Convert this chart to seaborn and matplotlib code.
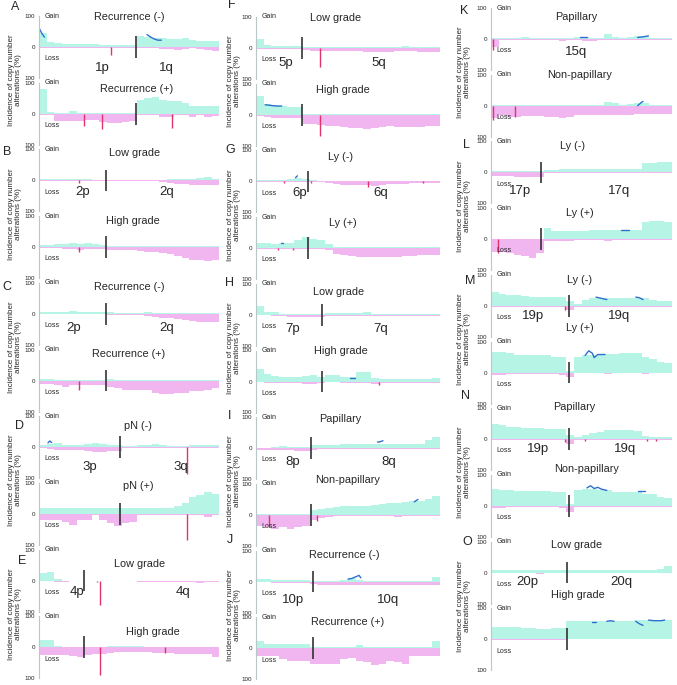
import numpy as np
import matplotlib
matplotlib.use("Agg")
import matplotlib.pyplot as plt
import seaborn as sns

# ---- panel meta ------------------------------------------------------------
LETTERS = ["A", "B", "C", "D", "E", "F", "G", "H", "I", "J", "K", "L", "M", "N", "O"]
ARMS = [("1p", "1q"), ("2p", "2q"), ("2p", "2q"), ("3p", "3q"), ("4p", "4q"),
        ("5p", "5q"), ("6p", "6q"), ("7p", "7q"), ("8p", "8q"), ("10p", "10q"),
        (None, "15q"), ("17p", "17q"), ("19p", "19q"), ("19p", "19q"), ("20p", "20q")]
ARM_POS = [(35, 71), (24, 71), (19, 71), (28, 79), (21, 80),
           (16, 67), (24, 68), (20, 68), (20, 72), (20, 72),
           (None, 47), (16, 71), (23, 71), (26, 74), (20, 72)]
ARM_Y = [-68, -38, -45, -64, -38, -48, -38, -45, -45, -58, -42, -61, -32, -32, -29]
CENTROMERE = [54, 37, 37, 45, 25, 25, 28, 36, 30, 31, None, 27.5, 43, 43, 42]
TITLES = [("Recurrence (-)", "Recurrence (+)"), ("Low grade", "High grade"),
          ("Recurrence (-)", "Recurrence (+)"), ("pN (-)", "pN (+)"),
          ("Low grade", "High grade"), ("Low grade", "High grade"),
          ("Ly (-)", "Ly (+)"), ("Low grade", "High grade"),
          ("Papillary", "Non-papillary"), ("Recurrence (-)", "Recurrence (+)"),
          ("Papillary", "Non-papillary"), ("Ly (-)", "Ly (+)"), ("Ly (-)", "Ly (+)"),
          ("Papillary", "Non-papillary"), ("Low grade", "High grade")]
TITLE_X = [(50, 54), (53, 52), (50, 50), (55, 55), (56, 63),
           (43, 47), (46, 47), (45, 46), (46, 50), (48, 50),
           (47, 49), (45, 49), (49, 49), (46, 53), (47, 48)]
TITLE_Y = [(97, 80), (87, 84), (85, 85), (70, 90), (52, 48),
           (97, 80), (80, 80), (74, 97), (93, 113), (87, 84),
           (70, 100), (84, 84), (84, 145), (103, 120), (90, 142)]

# ---- gain / loss incidence (%) in 24 equal bins along each chromosome -------
A1_GAIN = [45, 15, 12, 10, 10, 10, 10, 9, 8, 8, 8, 7, 7, 35, 32, 30, 28, 26, 25, 28, 22, 20, 18, 18]
A1_LOSS = [2, 2, 2, 2, 2, 2, 2, 2, 3, 4, 3, 3, 2, 3, 3, 4, 5, 8, 10, 5, 4, 8, 10, 12]
A2_GAIN = [80, 5, 2, 2, 8, 2, 2, 2, 2, 2, 2, 2, 2, 45, 50, 55, 45, 40, 40, 35, 25, 25, 25, 25]
A2_LOSS = [3, 3, 25, 25, 25, 25, 20, 20, 28, 30, 30, 28, 25, 5, 5, 3, 10, 10, 5, 3, 10, 3, 10, 8]
B1_GAIN = [4, 3, 3, 3, 3, 3, 3, 2, 2, 2, 2, 2, 2, 2, 2, 2, 2, 3, 3, 4, 5, 8, 10, 5]
B1_LOSS = [1, 1, 1, 1, 2, 1, 1, 1, 1, 1, 1, 1, 1, 1, 1, 1, 5, 8, 10, 12, 15, 15, 15, 15]
B2_GAIN = [8, 8, 10, 10, 12, 10, 12, 10, 8, 5, 3, 3, 3, 3, 3, 3, 3, 3, 2, 2, 2, 2, 2, 2]
B2_LOSS = [3, 3, 4, 5, 5, 8, 5, 5, 5, 8, 10, 10, 10, 12, 15, 15, 18, 22, 28, 35, 40, 42, 45, 40]
C1_GAIN = [6, 5, 5, 5, 8, 5, 5, 5, 5, 5, 3, 3, 3, 3, 5, 3, 3, 3, 3, 3, 3, 3, 3, 3]
C1_LOSS = [2, 2, 2, 2, 2, 2, 2, 2, 2, 3, 3, 3, 5, 5, 8, 10, 12, 15, 18, 20, 22, 25, 25, 25]
C2_GAIN = [5, 5, 3, 3, 3, 3, 3, 3, 3, 5, 3, 3, 3, 3, 3, 3, 3, 3, 3, 3, 3, 3, 3, 3]
C2_LOSS = [10, 10, 15, 20, 15, 15, 15, 15, 15, 20, 25, 30, 30, 30, 30, 40, 45, 45, 40, 40, 35, 35, 30, 25]
D1_GAIN = [8, 10, 12, 8, 8, 8, 10, 15, 10, 8, 6, 5, 5, 6, 8, 10, 6, 5, 5, 5, 6, 8, 8, 8]
D1_LOSS = [3, 5, 8, 10, 10, 10, 12, 15, 15, 12, 12, 2, 2, 2, 2, 2, 2, 2, 2, 2, 2, 2, 2, 2]
D2_GAIN = [20, 20, 20, 20, 20, 20, 20, 20, 20, 20, 20, 20, 20, 20, 20, 20, 20, 20, 25, 35, 55, 60, 70, 65]
D2_LOSS = [20, 20, 20, 25, 35, 20, 20, 5, 20, 30, 40, 30, 25, 3, 3, 3, 3, 3, 3, 3, 3, 3, 10, 3]
E1_GAIN = [25, 28, 5, 0, 0, 0, 0, 0, 0, 0, 0, 0, 0, 0, 0, 0, 0, 0, 0, 0, 0, 0, 0, 0]
E1_LOSS = [0, 0, 3, 3, 0, 0, 0, 0, 0, 0, 0, 0, 0, 3, 3, 3, 3, 3, 3, 3, 5, 8, 5, 3]
E2_GAIN = [25, 25, 5, 1, 1, 1, 1, 1, 1, 5, 5, 5, 5, 5, 1, 1, 1, 1, 1, 1, 1, 1, 1, 1]
E2_LOSS = [25, 25, 25, 25, 28, 30, 25, 20, 20, 18, 15, 15, 15, 15, 15, 18, 18, 18, 20, 20, 20, 22, 22, 30]
F1_GAIN = [30, 10, 8, 8, 8, 8, 3, 3, 3, 3, 3, 3, 3, 3, 3, 3, 3, 3, 3, 5, 3, 3, 3, 3]
F1_LOSS = [2, 2, 2, 2, 2, 2, 5, 10, 10, 10, 10, 10, 10, 10, 12, 12, 12, 12, 10, 10, 10, 12, 12, 12]
F2_GAIN = [60, 35, 30, 28, 25, 25, 2, 2, 2, 2, 2, 2, 2, 2, 2, 2, 2, 2, 2, 2, 2, 2, 2, 2]
F2_LOSS = [5, 8, 10, 10, 10, 10, 30, 30, 32, 35, 38, 40, 42, 42, 45, 42, 40, 38, 40, 40, 40, 40, 38, 35]
G1_GAIN = [5, 5, 5, 5, 8, 10, 8, 3, 2, 2, 2, 2, 2, 2, 2, 2, 2, 2, 2, 2, 2, 2, 2, 2]
G1_LOSS = [2, 2, 2, 2, 2, 2, 2, 3, 3, 5, 8, 10, 10, 10, 12, 15, 10, 8, 8, 8, 5, 5, 5, 5]
G2_GAIN = [15, 15, 12, 15, 15, 25, 35, 30, 25, 12, 5, 3, 3, 3, 3, 3, 3, 3, 3, 3, 5, 3, 3, 3]
G2_LOSS = [3, 3, 3, 3, 3, 3, 3, 3, 3, 5, 20, 22, 25, 28, 30, 30, 28, 30, 28, 25, 25, 22, 22, 22]
H1_GAIN = [30, 10, 8, 3, 3, 3, 3, 3, 3, 5, 5, 5, 5, 5, 10, 3, 2, 2, 2, 2, 2, 2, 2, 2]
H1_LOSS = [2, 2, 5, 5, 6, 8, 8, 8, 8, 3, 3, 3, 3, 3, 3, 3, 3, 3, 3, 3, 3, 5, 3, 3]
H2_GAIN = [40, 25, 18, 15, 15, 15, 18, 20, 15, 20, 20, 15, 15, 30, 30, 10, 8, 8, 8, 8, 8, 8, 8, 12]
H2_LOSS = [2, 5, 6, 6, 6, 6, 8, 8, 6, 3, 3, 4, 5, 5, 5, 8, 6, 5, 5, 5, 5, 5, 5, 5]
I1_GAIN = [2, 2, 3, 8, 3, 3, 3, 10, 10, 10, 10, 12, 12, 12, 12, 12, 15, 15, 15, 15, 15, 15, 25, 35]
I1_LOSS = [5, 5, 5, 5, 5, 8, 8, 5, 2, 2, 2, 2, 2, 2, 2, 2, 2, 2, 2, 2, 2, 2, 2, 2]
I2_GAIN = [3, 3, 3, 3, 3, 3, 3, 15, 18, 22, 25, 28, 28, 30, 30, 32, 35, 38, 40, 42, 45, 45, 50, 60]
I2_LOSS = [35, 40, 45, 40, 45, 40, 35, 15, 10, 8, 5, 5, 5, 5, 5, 5, 5, 5, 8, 5, 3, 3, 3, 3]
J1_GAIN = [10, 10, 5, 5, 5, 5, 5, 3, 3, 3, 3, 5, 12, 5, 3, 3, 3, 3, 3, 3, 3, 3, 3, 15]
J1_LOSS = [2, 2, 3, 5, 5, 5, 5, 8, 10, 10, 12, 12, 12, 12, 10, 10, 10, 12, 12, 12, 12, 12, 12, 12]
J2_GAIN = [25, 15, 15, 15, 15, 15, 15, 3, 3, 3, 3, 3, 3, 10, 3, 3, 3, 3, 3, 3, 3, 3, 3, 25]
J2_LOSS = [25, 25, 25, 35, 40, 40, 40, 50, 52, 52, 52, 35, 30, 40, 45, 55, 50, 40, 45, 50, 25, 25, 25, 25]
K1_GAIN = [3, 3, 3, 3, 5, 3, 3, 3, 3, 3, 3, 5, 5, 3, 3, 15, 8, 3, 8, 10, 5, 3, 3, 3]
K1_LOSS = [25, 2, 2, 2, 2, 2, 2, 2, 2, 5, 3, 2, 5, 5, 2, 2, 2, 2, 2, 2, 2, 2, 2, 2]
K2_GAIN = [3, 3, 3, 3, 3, 3, 3, 3, 3, 3, 3, 3, 3, 3, 3, 12, 8, 3, 5, 10, 8, 3, 3, 3]
K2_LOSS = [40, 30, 35, 35, 32, 32, 32, 35, 38, 40, 35, 30, 30, 30, 30, 30, 30, 30, 30, 28, 28, 28, 28, 28]
L1_GAIN = [5, 5, 5, 3, 3, 3, 3, 8, 8, 10, 10, 10, 10, 10, 10, 10, 10, 10, 10, 10, 30, 30, 32, 35]
L1_LOSS = [12, 12, 12, 14, 14, 14, 14, 2, 3, 3, 2, 2, 3, 2, 2, 3, 2, 2, 2, 2, 2, 2, 2, 2]
L2_GAIN = [0, 0, 0, 0, 0, 0, 0, 35, 25, 25, 25, 25, 25, 28, 28, 28, 30, 30, 28, 28, 55, 60, 60, 55]
L2_LOSS = [40, 40, 45, 50, 55, 60, 45, 5, 5, 5, 5, 3, 3, 2, 2, 5, 2, 2, 2, 2, 2, 2, 2, 2]
M1_GAIN = [45, 38, 35, 35, 32, 30, 30, 30, 28, 28, 15, 5, 20, 25, 25, 25, 25, 25, 25, 25, 25, 18, 15, 15]
M1_LOSS = [5, 5, 5, 3, 3, 3, 3, 3, 3, 3, 15, 3, 3, 3, 3, 3, 3, 3, 3, 3, 3, 3, 3, 3]
M2_GAIN = [65, 65, 62, 55, 55, 55, 55, 55, 50, 50, 5, 50, 55, 55, 58, 60, 60, 62, 62, 62, 50, 45, 35, 30]
M2_LOSS = [8, 8, 5, 5, 5, 5, 5, 5, 5, 8, 15, 3, 3, 3, 3, 5, 3, 3, 3, 3, 5, 3, 3, 3]
N1_GAIN = [50, 45, 40, 38, 35, 35, 35, 32, 32, 32, 15, 8, 15, 20, 22, 30, 30, 30, 30, 25, 10, 8, 8, 8]
N1_LOSS = [3, 3, 3, 3, 3, 3, 3, 3, 3, 3, 15, 3, 3, 2, 2, 2, 2, 2, 2, 3, 2, 2, 2, 2]
N2_GAIN = [55, 50, 50, 48, 48, 48, 48, 48, 45, 45, 5, 50, 55, 55, 52, 50, 45, 45, 45, 45, 40, 38, 30, 25]
N2_LOSS = [8, 8, 5, 3, 3, 3, 3, 3, 3, 8, 20, 3, 3, 3, 3, 5, 5, 3, 3, 3, 5, 3, 3, 3]
O1_GAIN = [8, 8, 8, 8, 8, 8, 8, 8, 8, 8, 8, 10, 10, 10, 10, 10, 10, 10, 10, 10, 10, 10, 12, 22]
O1_LOSS = [1, 1, 1, 1, 1, 1, 5, 1, 1, 1, 1, 0, 0, 0, 0, 0, 0, 0, 0, 0, 0, 0, 0, 0]
O2_GAIN = [40, 40, 40, 40, 38, 35, 32, 32, 35, 35, 60, 60, 60, 60, 60, 60, 60, 60, 60, 62, 62, 62, 62, 62]
O2_LOSS = [1, 1, 3, 3, 3, 3, 3, 3, 3, 3, 0, 0, 0, 0, 0, 0, 0, 0, 0, 0, 0, 0, 0, 0]

# ---- narrow significant losses: [position %, depth %] ---------------------
A1_SPIKES = [[40, 25]]
A2_SPIKES = [[25, 40], [35, 50], [74, 45]]
B1_SPIKES = [[22, 10]]
B2_SPIKES = [[22, 15]]
C2_SPIKES = [[22, 30]]
D1_SPIKES = [[82, 85]]
D2_SPIKES = [[82, 85]]
E1_SPIKES = [[32, 5], [34, 80]]
E2_SPIKES = [[34, 88], [70, 18]]
F1_SPIKES = [[35, 60]]
F2_SPIKES = [[35, 70]]
G1_SPIKES = [[15, 5], [30, 5], [61, 18], [91, 5]]
G2_SPIKES = [[12, 5], [20, 5]]
H2_SPIKES = [[67, 10]]
I2_SPIKES = [[7, 40], [33, 20]]
K1_SPIKES = [[1, 35]]
K2_SPIKES = [[1, 45], [13, 38]]
L2_SPIKES = [[4, 45]]
M1_SPIKES = [[41, 15]]
N1_SPIKES = [[41, 10], [52, 5], [86, 5], [91, 5]]

# ---- significant gain traces: [[x...], [y...]] ------------------------------
A1_SIG = [[[0, 1, 2, 3], [62, 50, 40, 32]], [[60, 62, 64, 66, 68], [40, 32, 26, 22, 22]]]
D1_SIG = [[[5, 6, 7], [14, 20, 15]]]
F2_SIG = [[[5, 8, 11, 14], [32, 30, 28, 28]]]
G1_SIG = [[[21.5, 22.5], [12, 18]]]
G2_SIG = [[[13.5, 14.5], [15, 15]]]
H2_SIG = [[[51, 54], [12, 12]]]
I1_SIG = [[[66, 67, 69], [20, 20, 24]]]
I2_SIG = [[[86, 87, 88], [42, 46, 50]]]
J1_SIG = [[[50, 52, 54, 56, 57], [8, 10, 15, 20, 12]]]
K1_SIG = [[[49, 53], [5, 5]], [[81, 84, 87], [5, 7, 10]]]
K2_SIG = [[[81, 82, 83, 84], [0, 5, 10, 14]]]
L2_SIG = [[[72, 74, 76], [28, 28, 28]]]
M1_SIG = [[[58, 61, 64], [28, 24, 20]], [[80, 82, 84], [28, 26, 20]]]
M2_SIG = [[[52, 54, 56, 57, 59, 63], [55, 70, 62, 48, 58, 58]]]
N2_SIG = [[[53, 55, 57, 59, 61, 64], [58, 65, 56, 60, 54, 50]], [[81, 85], [48, 48]]]
O2_SIG = [[[56, 58], [56, 56]], [[64, 66, 68], [58, 60, 58]],
          [[80, 82, 84], [58, 50, 45]], [[87, 90, 94, 96], [62, 60, 60, 62]]]

SUBPLOTS = [
    (A1_GAIN, A1_LOSS, A1_SPIKES, A1_SIG), (A2_GAIN, A2_LOSS, A2_SPIKES, []),
    (B1_GAIN, B1_LOSS, B1_SPIKES, []), (B2_GAIN, B2_LOSS, B2_SPIKES, []),
    (C1_GAIN, C1_LOSS, [], []), (C2_GAIN, C2_LOSS, C2_SPIKES, []),
    (D1_GAIN, D1_LOSS, D1_SPIKES, D1_SIG), (D2_GAIN, D2_LOSS, D2_SPIKES, []),
    (E1_GAIN, E1_LOSS, E1_SPIKES, []), (E2_GAIN, E2_LOSS, E2_SPIKES, []),
    (F1_GAIN, F1_LOSS, F1_SPIKES, []), (F2_GAIN, F2_LOSS, F2_SPIKES, F2_SIG),
    (G1_GAIN, G1_LOSS, G1_SPIKES, G1_SIG), (G2_GAIN, G2_LOSS, G2_SPIKES, G2_SIG),
    (H1_GAIN, H1_LOSS, [], []), (H2_GAIN, H2_LOSS, H2_SPIKES, H2_SIG),
    (I1_GAIN, I1_LOSS, [], I1_SIG), (I2_GAIN, I2_LOSS, I2_SPIKES, I2_SIG),
    (J1_GAIN, J1_LOSS, [], J1_SIG), (J2_GAIN, J2_LOSS, [], []),
    (K1_GAIN, K1_LOSS, K1_SPIKES, K1_SIG), (K2_GAIN, K2_LOSS, K2_SPIKES, K2_SIG),
    (L1_GAIN, L1_LOSS, [], []), (L2_GAIN, L2_LOSS, L2_SPIKES, L2_SIG),
    (M1_GAIN, M1_LOSS, M1_SPIKES, M1_SIG), (M2_GAIN, M2_LOSS, [], M2_SIG),
    (N1_GAIN, N1_LOSS, N1_SPIKES, []), (N2_GAIN, N2_LOSS, [], N2_SIG),
    (O1_GAIN, O1_LOSS, [], []), (O2_GAIN, O2_LOSS, [], O2_SIG),
]

GAIN_COLOR = "#b6f4e6"
LOSS_COLOR = "#f1b5f0"
SPIKE_COLOR = "#e0336e"
SIG_COLOR = "#2f6fd0"

# layout (pixels)
W, H = 677, 685
COL_X0 = [39, 256, 491]
COL_X1 = [219, 440, 672]
COL_ZERO0 = [47, 48, 39]
STEP = 66.7
HALF = 31
LETTER_XY = [(15, 7), (7, 152), (7, 287), (20, 426), (22, 561),
             (232, 5), (230, 150), (230, 283), (230, 416), (230, 540),
             (464, 11), (466, 145), (470, 281), (466, 396), (467, 542)]
YLAB_X = [15, 234, 464]


def draw_sub(ax, gain, loss, spikes, sig):
    edges = np.linspace(0, 100, len(gain) + 1)
    g = np.append(gain, gain[-1])
    l = np.append(loss, loss[-1])
    ax.fill_between(edges, 0, g, step="post", color=GAIN_COLOR, lw=0)
    ax.fill_between(edges, 0, -l, step="post", color=LOSS_COLOR, lw=0)
    for x, d in spikes:
        ax.vlines(x, 0, -d, color=SPIKE_COLOR, lw=1.0)
    for xs, ys in sig:
        sns.lineplot(x=xs, y=ys, ax=ax, color=SIG_COLOR, lw=1.0)
    ax.set_xlim(0, 100)
    ax.set_ylim(-100, 100)
    ax.set_xticks([])
    ax.set_yticks([-100, 0, 100])
    ax.set_yticklabels(["100", "0", "100"], fontsize=4.5)
    ax.tick_params(axis="y", length=2, width=0.5, pad=1, color="#9aaaaa")
    for s in ["top", "right", "bottom"]:
        ax.spines[s].set_visible(False)
    ax.spines["left"].set_color("#b8c8c8")
    ax.spines["left"].set_linewidth(0.8)
    ax.set_xlabel("")
    ax.set_ylabel("")
    ax.patch.set_alpha(0)


sns.set_style("white")
plt.rcParams["font.family"] = ["Liberation Sans", "DejaVu Sans"]

fig = plt.figure(figsize=(W / 100, H / 100), dpi=100)

for i, letter in enumerate(LETTERS):
    col, row = i // 5, i % 5
    x0, x1 = COL_X0[col], COL_X1[col]
    zeros = []
    for j in range(2):
        zero = COL_ZERO0[col] + (2 * row + j) * STEP
        zeros.append(zero)
        gain, loss, spikes, sig = SUBPLOTS[2 * i + j]
        ax = fig.add_axes([x0 / W, 1 - (zero + HALF) / H, (x1 - x0) / W, 2 * HALF / H])
        draw_sub(ax, gain, loss, spikes, sig)
        ax.text(3, 100, "Gain", fontsize=5, va="center", ha="left")
        ax.text(3, -38, "Loss", fontsize=5, va="center", ha="left")
        ax.text(TITLE_X[i][j], TITLE_Y[i][j], TITLES[i][j], fontsize=7.8,
                ha="center", va="center")
        if CENTROMERE[i] is not None:
            ax.vlines(CENTROMERE[i], -35, 35, color="#333333", lw=1.2)
        if j == 0:
            for lab, pos in zip(ARMS[i], ARM_POS[i]):
                if lab is not None:
                    ax.text(pos, ARM_Y[i], lab, fontsize=9.5, ha="center", va="center")
    fig.text(LETTER_XY[i][0] / W, 1 - LETTER_XY[i][1] / H, letter,
             fontsize=9, ha="center", va="center")
    fig.text(YLAB_X[col] / W, 1 - (zeros[0] + zeros[1]) / 2 / H,
             "Incidence of copy number\nalterations (%)", fontsize=5.8,
             rotation=90, ha="center", va="center", multialignment="center",
             linespacing=1.0)

fig.savefig("out.png", dpi=100)
